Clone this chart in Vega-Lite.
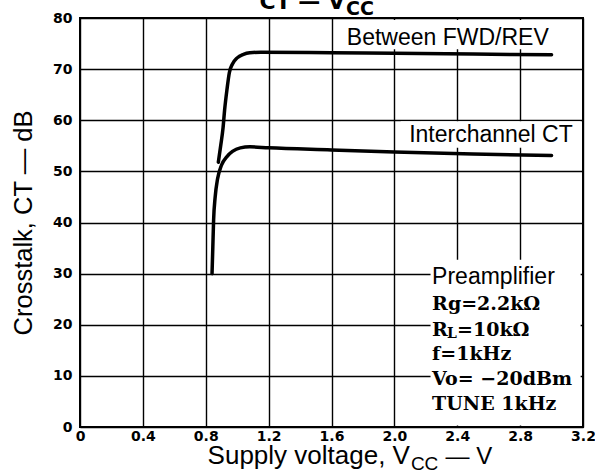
{
  "$schema": "https://vega.github.io/schema/vega-lite/v6.json",
  "width": 503,
  "height": 409,
  "autosize": {"type": "none"},
  "padding": {"left": 80, "top": 18, "right": 12, "bottom": 46},
  "background": "white",
  "config": {
    "view": {"stroke": "black", "strokeWidth": 2},
    "axis": {
      "grid": true, "gridColor": "black", "gridWidth": 1.4, "gridOpacity": 1,
      "domain": false, "ticks": false,
      "labelColor": "black", "labelFont": "DejaVu Sans", "labelFontWeight": "bold", "labelFontSize": 14
    },
    "text": {"color": "black"}
  },
  "layer": [
    {
      "data": {"values": [{}]},
      "mark": {"type": "rect", "color": "white"},
      "encoding": {
        "x": {"datum": 1.66, "type": "quantitative"}, "x2": {"datum": 3.185},
        "y": {"datum": 73.9, "type": "quantitative"}, "y2": {"datum": 79.6}
      }
    },
    {
      "data": {"values": [{}]},
      "mark": {"type": "rect", "color": "white"},
      "encoding": {
        "x": {"datum": 2.04, "type": "quantitative"}, "x2": {"datum": 3.185},
        "y": {"datum": 54.6, "type": "quantitative"}, "y2": {"datum": 59.8}
      }
    },
    {
      "data": {"values": [{}]},
      "mark": {"type": "rect", "color": "white"},
      "encoding": {
        "x": {"datum": 2.23, "type": "quantitative"}, "x2": {"datum": 3.185},
        "y": {"datum": 0.3, "type": "quantitative"}, "y2": {"datum": 32.7}
      }
    },
    {
      "data": {
        "values": [
          {"series": "Between FWD/REV", "vcc": 0.88, "ct": 51.8},
          {"series": "Between FWD/REV", "vcc": 0.895, "ct": 55.0},
          {"series": "Between FWD/REV", "vcc": 0.91, "ct": 58.5},
          {"series": "Between FWD/REV", "vcc": 0.92, "ct": 62.0},
          {"series": "Between FWD/REV", "vcc": 0.935, "ct": 66.0},
          {"series": "Between FWD/REV", "vcc": 0.95, "ct": 69.3},
          {"series": "Between FWD/REV", "vcc": 0.97, "ct": 71.0},
          {"series": "Between FWD/REV", "vcc": 1.0, "ct": 72.2},
          {"series": "Between FWD/REV", "vcc": 1.04, "ct": 72.9},
          {"series": "Between FWD/REV", "vcc": 1.08, "ct": 73.2},
          {"series": "Between FWD/REV", "vcc": 1.15, "ct": 73.3},
          {"series": "Between FWD/REV", "vcc": 1.6, "ct": 73.2},
          {"series": "Between FWD/REV", "vcc": 2.0, "ct": 73.1},
          {"series": "Between FWD/REV", "vcc": 2.5, "ct": 72.95},
          {"series": "Between FWD/REV", "vcc": 3.0, "ct": 72.8},
          {"series": "Interchannel CT", "vcc": 0.84, "ct": 30.0},
          {"series": "Interchannel CT", "vcc": 0.845, "ct": 35.2},
          {"series": "Interchannel CT", "vcc": 0.85, "ct": 40.5},
          {"series": "Interchannel CT", "vcc": 0.86, "ct": 45.0},
          {"series": "Interchannel CT", "vcc": 0.875, "ct": 48.5},
          {"series": "Interchannel CT", "vcc": 0.9, "ct": 51.2},
          {"series": "Interchannel CT", "vcc": 0.935, "ct": 52.9},
          {"series": "Interchannel CT", "vcc": 0.97, "ct": 53.9},
          {"series": "Interchannel CT", "vcc": 1.02, "ct": 54.6},
          {"series": "Interchannel CT", "vcc": 1.08, "ct": 54.8},
          {"series": "Interchannel CT", "vcc": 1.2, "ct": 54.6},
          {"series": "Interchannel CT", "vcc": 1.6, "ct": 54.2},
          {"series": "Interchannel CT", "vcc": 2.0, "ct": 53.8},
          {"series": "Interchannel CT", "vcc": 2.5, "ct": 53.4},
          {"series": "Interchannel CT", "vcc": 3.0, "ct": 53.1}
        ]
      },
      "mark": {"type": "line", "color": "black", "strokeWidth": 3.5, "interpolate": "monotone", "strokeCap": "round"},
      "encoding": {
        "x": {
          "field": "vcc", "type": "quantitative",
          "scale": {"domain": [0, 3.2], "nice": false, "zero": false},
          "axis": {
            "values": [0, 0.4, 0.8, 1.2, 1.6, 2.0, 2.4, 2.8, 3.2],
            "labelExpr": "datum.value == 0 ? '0' : format(datum.value, '.1f')",
            "labelPadding": 2, "labelFlush": false, "title": null
          }
        },
        "y": {
          "field": "ct", "type": "quantitative",
          "scale": {"domain": [0, 80], "nice": false},
          "axis": {
            "values": [0, 10, 20, 30, 40, 50, 60, 70, 80],
            "labelPadding": 8, "labelFlush": false,
            "title": "Crosstalk, CT — dB",
            "titleFont": "Liberation Sans", "titleFontWeight": "normal", "titleFontSize": 25.5,
            "titleColor": "black", "titlePadding": 16
          }
        },
        "detail": {"field": "series"}
      }
    },
    {
      "data": {"values": [{}]},
      "mark": {"type": "text", "text": "Between FWD/REV", "font": "Liberation Sans", "fontSize": 23, "align": "center", "baseline": "middle"},
      "encoding": {"x": {"datum": 2.34, "type": "quantitative"}, "y": {"datum": 76.1, "type": "quantitative"}}
    },
    {
      "data": {"values": [{}]},
      "mark": {"type": "text", "text": "Interchannel CT", "font": "Liberation Sans", "fontSize": 23, "align": "right", "baseline": "middle"},
      "encoding": {"x": {"datum": 3.135, "type": "quantitative"}, "y": {"datum": 57.1, "type": "quantitative"}}
    },
    {
      "data": {"values": [{}]},
      "mark": {"type": "text", "text": "Preamplifier", "font": "Liberation Sans", "fontSize": 23, "align": "left", "baseline": "middle"},
      "encoding": {"x": {"datum": 2.24, "type": "quantitative"}, "y": {"datum": 29.3, "type": "quantitative"}}
    },
    {
      "data": {"values": [{}]},
      "mark": {"type": "text", "text": "Rg=2.2kΩ", "font": "DejaVu Serif", "fontWeight": "bold", "fontSize": 19, "align": "left", "baseline": "middle"},
      "encoding": {"x": {"datum": 2.24, "type": "quantitative"}, "y": {"datum": 24.0, "type": "quantitative"}}
    },
    {
      "data": {"values": [{}]},
      "mark": {"type": "text", "text": "R", "font": "DejaVu Serif", "fontWeight": "bold", "fontSize": 19, "align": "left", "baseline": "middle"},
      "encoding": {"x": {"datum": 2.24, "type": "quantitative"}, "y": {"datum": 19.0, "type": "quantitative"}}
    },
    {
      "data": {"values": [{}]},
      "mark": {"type": "text", "text": "L", "font": "DejaVu Serif", "fontWeight": "bold", "fontSize": 14, "align": "left", "baseline": "middle", "dx": 15, "dy": 4},
      "encoding": {"x": {"datum": 2.24, "type": "quantitative"}, "y": {"datum": 19.0, "type": "quantitative"}}
    },
    {
      "data": {"values": [{}]},
      "mark": {"type": "text", "text": "=10kΩ", "font": "DejaVu Serif", "fontWeight": "bold", "fontSize": 19, "align": "left", "baseline": "middle", "dx": 25},
      "encoding": {"x": {"datum": 2.24, "type": "quantitative"}, "y": {"datum": 19.0, "type": "quantitative"}}
    },
    {
      "data": {"values": [{}]},
      "mark": {"type": "text", "text": "f=1kHz", "font": "DejaVu Serif", "fontWeight": "bold", "fontSize": 19, "align": "left", "baseline": "middle"},
      "encoding": {"x": {"datum": 2.24, "type": "quantitative"}, "y": {"datum": 14.3, "type": "quantitative"}}
    },
    {
      "data": {"values": [{}]},
      "mark": {"type": "text", "text": "Vo= −20dBm", "font": "DejaVu Serif", "fontWeight": "bold", "fontSize": 19, "align": "left", "baseline": "middle"},
      "encoding": {"x": {"datum": 2.24, "type": "quantitative"}, "y": {"datum": 9.4, "type": "quantitative"}}
    },
    {
      "data": {"values": [{}]},
      "mark": {"type": "text", "text": "TUNE 1kHz", "font": "DejaVu Serif", "fontWeight": "bold", "fontSize": 19, "align": "left", "baseline": "middle"},
      "encoding": {"x": {"datum": 2.24, "type": "quantitative"}, "y": {"datum": 4.5, "type": "quantitative"}}
    },
    {
      "data": {"values": [{}]},
      "mark": {"type": "text", "text": "Supply voltage, V", "font": "Liberation Sans", "fontSize": 26, "align": "right", "baseline": "alphabetic"},
      "encoding": {"x": {"datum": 2.099, "type": "quantitative"}, "y": {"datum": -7.2, "type": "quantitative"}}
    },
    {
      "data": {"values": [{}]},
      "mark": {"type": "text", "text": "CC", "font": "Liberation Sans", "fontSize": 19, "align": "left", "baseline": "alphabetic"},
      "encoding": {"x": {"datum": 2.105, "type": "quantitative"}, "y": {"datum": -8.5, "type": "quantitative"}}
    },
    {
      "data": {"values": [{}]},
      "mark": {"type": "text", "text": "— V", "font": "Liberation Sans", "fontSize": 24, "align": "left", "baseline": "alphabetic"},
      "encoding": {"x": {"datum": 2.325, "type": "quantitative"}, "y": {"datum": -7.2, "type": "quantitative"}}
    },
    {
      "data": {"values": [{}]},
      "mark": {"type": "text", "text": "CT — V", "font": "DejaVu Sans", "fontWeight": "bold", "fontSize": 22, "align": "right", "baseline": "alphabetic"},
      "encoding": {"x": {"datum": 1.686, "type": "quantitative"}, "y": {"datum": 81.8, "type": "quantitative"}}
    },
    {
      "data": {"values": [{}]},
      "mark": {"type": "text", "text": "CC", "font": "DejaVu Sans", "fontWeight": "bold", "fontSize": 19, "align": "left", "baseline": "alphabetic", "dx": 1},
      "encoding": {"x": {"datum": 1.686, "type": "quantitative"}, "y": {"datum": 80.6, "type": "quantitative"}}
    }
  ]
}
